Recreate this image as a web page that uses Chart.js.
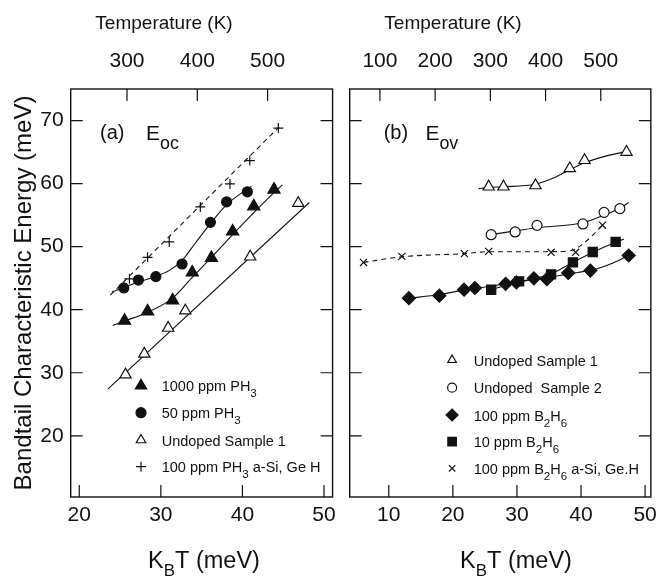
<!DOCTYPE html>
<html><head><meta charset="utf-8">
<script src="https://cdn.jsdelivr.net/npm/chart.js@4.4.1/dist/chart.umd.min.js"></script>
<style>
html,body{margin:0;padding:0;background:#fff;width:663px;height:578px;overflow:hidden}
#wa{position:absolute;left:0;top:0;width:342px;height:578px}
#wb{position:absolute;left:342px;top:0;width:321px;height:578px}
</style></head><body>
<div id="wa"><canvas id="ca"></canvas></div>
<div id="wb"><canvas id="cb"></canvas></div>
<script>
// ---------- constants / axes ----------
const KB = 0.08617; // meV per K
const Y_MIN = 10.3, Y_MAX = 75.0;
const Y_TICKS = [20, 30, 40, 50, 60, 70];
const XA_MIN = 18.95, XA_MAX = 51.05;
const XA_TICKS = [20, 30, 40, 50];
const TA_TICKS = [300, 400, 500];
const XB_MIN = 3.9, XB_MAX = 50.9;
const XB_TICKS = [10, 20, 30, 40, 50];
const TB_TICKS = [100, 200, 300, 400, 500];

// ---------- panel (a) data : K_B T (meV) vs E_oc (meV) ----------
const a_ph1000_x = [25.55, 28.37, 31.44, 33.85, 36.2, 38.8, 41.39, 43.87];
const a_ph1000_y = [38.25, 39.73, 41.48, 45.9, 48.2, 52.4, 56.4, 59.05];
const a_ph1000_fit_x = [24.1, 25.55, 28.4, 31.4, 33.9, 36.2, 38.8, 41.4, 43.9, 44.9];
const a_ph1000_fit_y = [37.5, 38.2, 39.6, 41.8, 45.2, 48.3, 51.9, 55.4, 58.6, 59.8];

const a_ph50_x = [25.46, 27.25, 29.39, 32.6, 36.08, 38.06, 40.6];
const a_ph50_y = [43.45, 44.7, 45.25, 47.25, 53.85, 57.1, 58.7];
const a_ph50_fit_x = [24.0, 25.46, 27.25, 29.4, 31.0, 32.6, 34.3, 36.1, 38.1, 41.1];
const a_ph50_fit_y = [42.8, 43.5, 44.4, 45.3, 46.2, 47.8, 50.7, 53.7, 56.7, 59.6];

const a_und1_x = [25.67, 27.97, 30.9, 33.0, 40.95, 46.84];
const a_und1_y = [29.7, 33.0, 37.1, 39.84, 48.4, 56.9];
const a_und1_fit_x = [23.5, 48.2];
const a_und1_fit_y = [27.4, 57.0];

const a_sige_x = [26.15, 28.37, 31.03, 34.84, 38.47, 40.9, 44.4];
const a_sige_y = [44.9, 48.3, 50.75, 56.3, 59.95, 63.65, 68.8];
const a_sige_fit_x = [23.8, 44.5];
const a_sige_fit_y = [42.3, 69.0];

// ---------- panel (b) data : K_B T (meV) vs E_ov (meV) ----------
const b_und1_x = [25.59, 27.9, 32.9, 38.25, 40.55, 47.1];
const b_und1_y = [59.5, 59.5, 59.7, 62.4, 63.7, 65.0];
const b_und1_fit_x = [24.0, 25.6, 27.9, 32.9, 35.5, 38.25, 40.55, 44.0, 47.7];
const b_und1_fit_y = [59.2, 59.4, 59.5, 59.9, 60.8, 62.2, 63.3, 64.4, 65.2];

const b_und2_x = [25.98, 29.72, 33.14, 40.3, 43.6, 46.06];
const b_und2_y = [51.9, 52.33, 53.38, 53.6, 55.44, 56.03];
const b_und2_fit_x = [25.98, 29.72, 33.14, 40.3, 43.6, 46.06, 47.44];
const b_und2_fit_y = [51.9, 52.5, 53.0, 53.8, 55.0, 56.1, 57.0];

const b_bh100_x = [13.14, 17.89, 21.75, 23.44, 28.24, 29.92, 32.64, 34.68, 38.0, 41.46, 47.44];
const b_bh100_y = [41.83, 42.22, 43.17, 43.44, 44.1, 44.33, 44.97, 44.84, 45.83, 46.2, 48.6];
const b_bh100_fit_x = [13.14, 17.89, 21.75, 25.0, 28.24, 32.64, 36.0, 39.5, 42.5, 45.0, 47.44];
const b_bh100_fit_y = [41.8, 42.4, 43.1, 43.6, 44.1, 44.8, 45.3, 45.9, 46.5, 47.4, 48.6];

const b_bh10_x = [25.98, 30.34, 35.33, 38.74, 41.83, 45.4];
const b_bh10_y = [43.17, 44.5, 45.6, 47.5, 49.16, 50.75];
const b_bh10_fit_x = [25.98, 30.34, 35.33, 38.74, 41.83, 45.4, 46.7];
const b_bh10_fit_y = [43.2, 44.4, 45.7, 47.5, 49.1, 50.7, 51.2];

const b_sige_x = [6.06, 12.04, 21.8, 25.59, 35.33, 39.16, 43.36];
const b_sige_y = [47.5, 48.46, 48.9, 49.25, 49.1, 49.1, 53.4];
const b_sige_fit_x = [6.06, 12.04, 21.8, 25.59, 35.33, 38.5, 40.5, 43.36];
const b_sige_fit_y = [47.5, 48.4, 48.9, 49.2, 49.2, 49.4, 50.6, 53.4];

// ---------- texts ----------
const LEGEND_A = ['1000 ppm PH_3', '50 ppm PH_3', 'Undoped Sample 1', '100 ppm PH_3 a-Si, Ge H'];
const LEGEND_B = ['Undoped Sample 1', 'Undoped  Sample 2', '100 ppm B_2H_6', '10 ppm B_2H_6', '100 ppm B_2H_6 a-Si, Ge.H'];
const TITLE_TOP = 'Temperature (K)';
const TITLE_BOTTOM = 'K_BT (meV)';
const TITLE_Y = 'Bandtail Characteristic Energy (meV)';
const PANEL_A = ['(a)', 'E_{oc}'];
const PANEL_B = ['(b)', 'E_{ov}'];

const FONT = '"Liberation Sans", Arial, Helvetica, sans-serif';
const INK = '#111';

function pts(xs, ys) { return xs.map((x, i) => ({ x: x, y: ys[i] })); }

// rich text with subscripts: _c or _{...}
function parseRich(text) {
  const parts = []; let buf = ''; let i = 0;
  while (i < text.length) {
    const c = text[i];
    if (c === '_') {
      if (buf) { parts.push([buf, false]); buf = ''; }
      if (text[i + 1] === '{') { const j = text.indexOf('}', i); parts.push([text.slice(i + 2, j), true]); i = j + 1; }
      else { parts.push([text[i + 1], true]); i += 2; }
    } else { buf += c; i++; }
  }
  if (buf) parts.push([buf, false]);
  return parts;
}
function richWidth(ctx, text, size, subScale) {
  let w = 0;
  for (const [s, sub] of parseRich(text)) {
    ctx.font = (sub ? size * subScale : size) + 'px ' + FONT;
    w += ctx.measureText(s).width;
  }
  return w;
}
function drawRich(ctx, text, x, y, size, subScale, subDrop) {
  let cx = x;
  ctx.textBaseline = 'alphabetic';
  ctx.textAlign = 'left';
  for (const [s, sub] of parseRich(text)) {
    const fs = sub ? size * subScale : size;
    ctx.font = fs + 'px ' + FONT;
    ctx.fillText(s, cx, sub ? y + subDrop : y);
    cx += ctx.measureText(s).width;
  }
}

// frame + inward ticks + texts + legend
const framePlugin = {
  id: 'frame',
  afterDatasetsDraw(chart, args, o) {
    const ctx = chart.ctx, a = chart.chartArea;
    const sx = chart.scales.x, sx2 = chart.scales.x2, sy = chart.scales.y;
    ctx.save();
    ctx.strokeStyle = INK; ctx.lineWidth = 1.4;
    ctx.strokeRect(a.left, a.top, a.right - a.left, a.bottom - a.top);
    ctx.lineWidth = 1.2;
    ctx.beginPath();
    const L = 12;
    o.xTicks.forEach(v => { const p = sx.getPixelForValue(v); ctx.moveTo(p, a.bottom); ctx.lineTo(p, a.bottom - L); });
    o.tTicks.forEach(v => { const p = sx2.getPixelForValue(v); ctx.moveTo(p, a.top); ctx.lineTo(p, a.top + L); });
    o.yTicks.forEach(v => { const p = sy.getPixelForValue(v);
      ctx.moveTo(a.left, p); ctx.lineTo(a.left + L, p);
      ctx.moveTo(a.right, p); ctx.lineTo(a.right - L, p); });
    ctx.stroke();

    ctx.fillStyle = INK;
    // panel label
    ctx.font = '20px ' + FONT; ctx.textBaseline = 'alphabetic'; ctx.textAlign = 'left';
    ctx.fillText(o.panel[0], a.left + o.panelPos[0], a.top + 50);
    drawRich(ctx, o.panel[1], a.left + o.panelPos[1], a.top + 51, 21, 0.85, 9);

    // legend
    o.legend.forEach((t, i) => {
      const ry = a.top + o.legendY[i];
      const m = o.legendMarkers[i];
      ctx.fillStyle = m.fill; ctx.strokeStyle = INK; ctx.lineWidth = 1.2;
      Chart.helpers.drawPoint(ctx, { pointStyle: m.style, radius: m.r, rotation: 0, borderWidth: 1.2 }, a.left + o.legendX[0], ry);
      ctx.fillStyle = INK;
      drawRich(ctx, t, a.left + o.legendX[1], ry + 5.5, 14.5, 0.8, 6);
    });

    // axis titles
    const topW = richWidth(ctx, TITLE_TOP, 19, 0.8);
    drawRich(ctx, TITLE_TOP, o.topTitleX - topW / 2, 29, 19, 0.8, 6);
    const botW = richWidth(ctx, TITLE_BOTTOM, 23.5, 0.72);
    drawRich(ctx, TITLE_BOTTOM, o.botTitleX - botW / 2, 568, 23.5, 0.72, 8);
    if (o.yTitle) {
      ctx.save();
      ctx.translate(31, (a.top + a.bottom) / 2);
      ctx.rotate(-Math.PI / 2);
      const w = richWidth(ctx, TITLE_Y, 24, 0.8);
      drawRich(ctx, TITLE_Y, -w / 2, 0, 24, 0.8, 6);
      ctx.restore();
    }
    ctx.restore();
  }
};

function markerSet(label, xs, ys, style, r, fill) {
  return { label: label, data: pts(xs, ys), showLine: false, pointStyle: style, pointRadius: r, pointHoverRadius: r,
    backgroundColor: fill, pointBackgroundColor: fill, pointBorderColor: INK, borderColor: INK, pointBorderWidth: 1.2, order: 0 };
}
function lineSet(xs, ys, dash) {
  return { label: '', data: pts(xs, ys), showLine: true, pointRadius: 0, borderColor: INK, borderWidth: 1.1,
    borderDash: dash || [], cubicInterpolationMode: 'monotone', fill: false, order: 1 };
}

function baseOptions(xmin, xmax, xticks, tticks, yWidth, padL, padR, yLabels) {
  const tickFont = { family: FONT, size: 21 };
  return {
    responsive: true, maintainAspectRatio: false, animation: false,
    layout: { padding: { left: padL, right: padR, top: 0, bottom: 0 } },
    plugins: { legend: { display: false }, tooltip: { enabled: false } },
    scales: {
      x: { type: 'linear', position: 'bottom', min: xmin, max: xmax,
        afterBuildTicks: s => { s.ticks = xticks.map(v => ({ value: v })); },
        afterFit: s => { s.height = 81; },
        grid: { display: false, drawTicks: false }, border: { display: false },
        ticks: { font: tickFont, color: INK, padding: 6, maxRotation: 0, autoSkip: false } },
      x2: { type: 'linear', position: 'top', min: xmin / KB, max: xmax / KB,
        afterBuildTicks: s => { s.ticks = tticks.map(v => ({ value: v })); },
        afterFit: s => { s.height = 89; },
        grid: { display: false, drawTicks: false }, border: { display: false },
        ticks: { font: tickFont, color: INK, padding: 15, maxRotation: 0, autoSkip: false } },
      y: { type: 'linear', min: Y_MIN, max: Y_MAX, display: true,
        afterBuildTicks: s => { s.ticks = Y_TICKS.map(v => ({ value: v })); },
        afterFit: s => { s.width = yWidth; },
        grid: { display: false, drawTicks: false }, border: { display: false },
        ticks: { display: yLabels, font: tickFont, color: INK, padding: 7 } }
    }
  };
}

// ---------- chart (a) ----------
const optA = baseOptions(XA_MIN, XA_MAX, XA_TICKS, TA_TICKS, 70.7, 0, 7, true);
optA.plugins.frame = {
  xTicks: XA_TICKS, tTicks: TA_TICKS, yTicks: Y_TICKS,
  panel: PANEL_A, panelPos: [29.3, 75.3],
  legend: LEGEND_A, legendX: [70.3, 91], legendY: [296.7, 323.7, 351, 377.7],
  legendMarkers: [
    { style: 'triangle', r: 6.5, fill: INK },
    { style: 'circle', r: 5, fill: INK },
    { style: 'triangle', r: 5.5, fill: '#fff' },
    { style: 'cross', r: 5, fill: INK } ],
  topTitleX: 164, botTitleX: 204, yTitle: true
};
new Chart(document.getElementById('ca'), {
  type: 'scatter',
  data: { datasets: [
    markerSet('1000 ppm PH3', a_ph1000_x, a_ph1000_y, 'triangle', 7, INK),
    markerSet('50 ppm PH3', a_ph50_x, a_ph50_y, 'circle', 5, INK),
    markerSet('Undoped Sample 1', a_und1_x, a_und1_y, 'triangle', 6.5, '#fff'),
    markerSet('100 ppm PH3 a-Si, Ge H', a_sige_x, a_sige_y, 'cross', 5, INK),
    lineSet(a_ph1000_fit_x, a_ph1000_fit_y),
    lineSet(a_ph50_fit_x, a_ph50_fit_y),
    lineSet(a_und1_fit_x, a_und1_fit_y),
    lineSet(a_sige_fit_x, a_sige_fit_y, [5, 4])
  ] },
  options: optA,
  plugins: [framePlugin]
});

// ---------- chart (b) ----------
const optB = baseOptions(XB_MIN, XB_MAX, XB_TICKS, TB_TICKS, 0, 7.3, 7.3, false);
optB.plugins.frame = {
  xTicks: XB_TICKS, tTicks: TB_TICKS, yTicks: Y_TICKS,
  panel: PANEL_B, panelPos: [34, 75.7],
  legend: LEGEND_B, legendX: [102.4, 124], legendY: [271, 298.7, 326, 352.7, 379.3],
  legendMarkers: [
    { style: 'triangle', r: 5, fill: '#fff' },
    { style: 'circle', r: 4.5, fill: '#fff' },
    { style: 'rectRot', r: 6, fill: INK },
    { style: 'rect', r: 6, fill: INK },
    { style: 'crossRot', r: 4.5, fill: INK } ],
  topTitleX: 453 - 342, botTitleX: 516 - 342, yTitle: false
};
new Chart(document.getElementById('cb'), {
  type: 'scatter',
  data: { datasets: [
    markerSet('Undoped Sample 1', b_und1_x, b_und1_y, 'triangle', 6.5, '#fff'),
    markerSet('Undoped Sample 2', b_und2_x, b_und2_y, 'circle', 5, '#fff'),
    markerSet('100 ppm B2H6', b_bh100_x, b_bh100_y, 'rectRot', 6.5, INK),
    markerSet('10 ppm B2H6', b_bh10_x, b_bh10_y, 'rect', 6.5, INK),
    markerSet('100 ppm B2H6 a-Si, Ge.H', b_sige_x, b_sige_y, 'crossRot', 5, INK),
    lineSet(b_und1_fit_x, b_und1_fit_y),
    lineSet(b_und2_fit_x, b_und2_fit_y),
    lineSet(b_bh100_fit_x, b_bh100_fit_y),
    lineSet(b_bh10_fit_x, b_bh10_fit_y),
    lineSet(b_sige_fit_x, b_sige_fit_y, [5, 4])
  ] },
  options: optB,
  plugins: [framePlugin]
});
</script>
</body></html>
